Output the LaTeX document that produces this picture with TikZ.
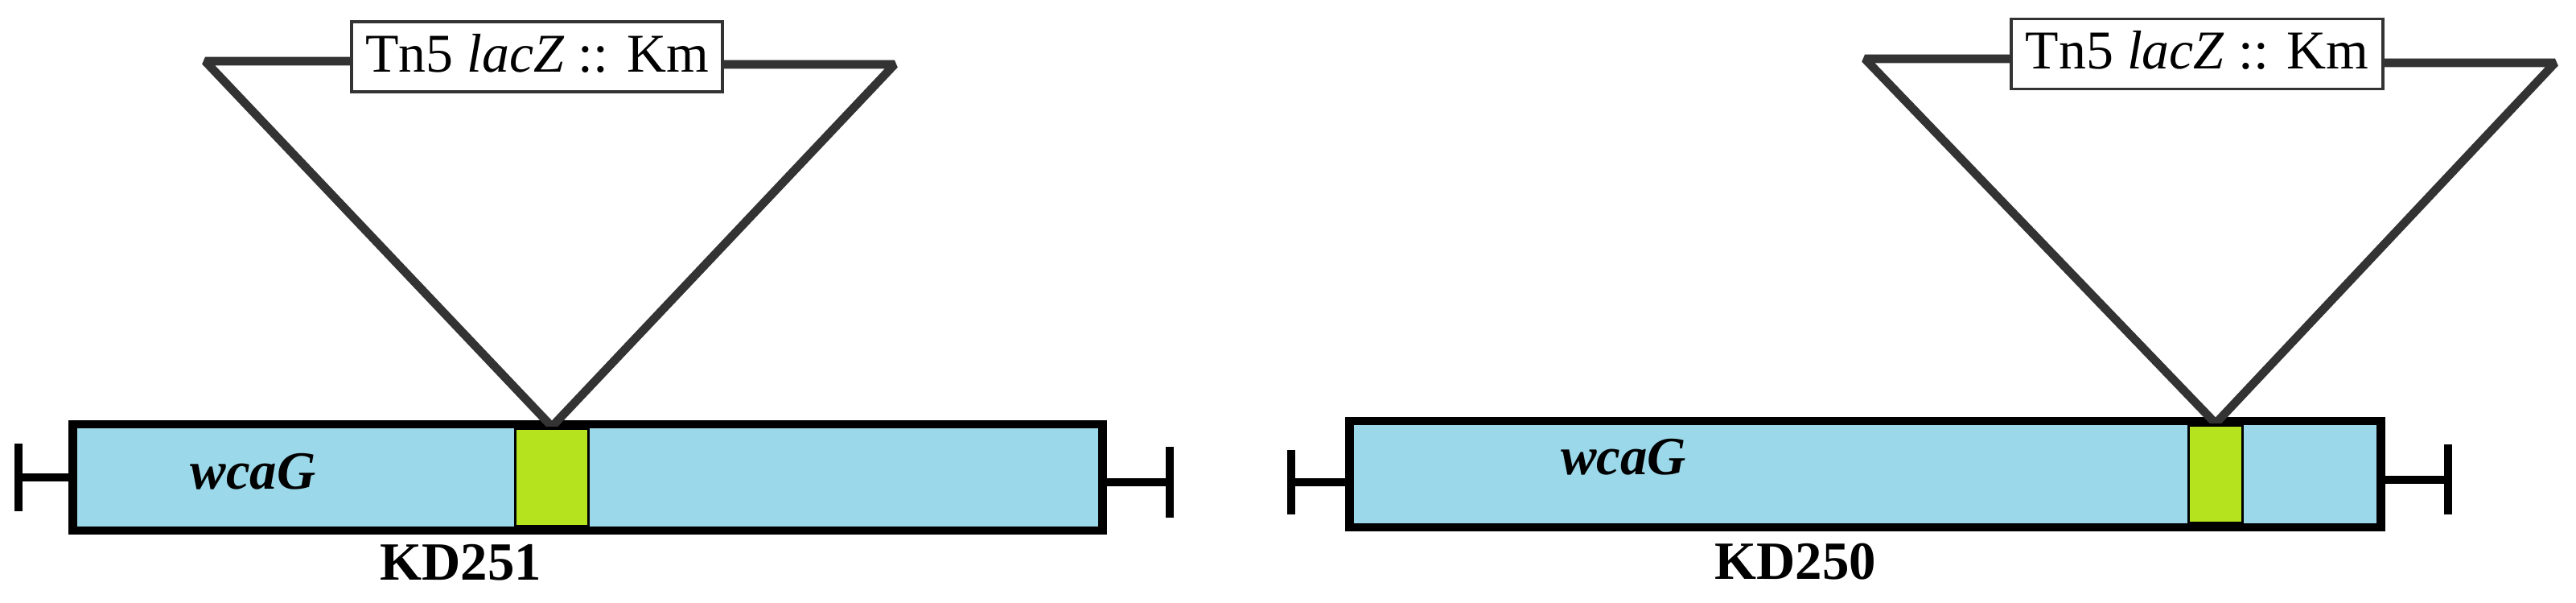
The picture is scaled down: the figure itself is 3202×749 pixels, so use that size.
\documentclass[tikz,border=0pt]{standalone}
\usepackage{fontspec}
\setmainfont{Liberation Serif}
\usepackage{xcolor}
\usepackage{tikz}
\usetikzlibrary{positioning}

\definecolor{genefill}{RGB}{155,216,233}
\definecolor{sitefill}{RGB}{181,228,30}
\definecolor{tngray}{RGB}{51,51,51}

\begin{document}
\begin{tikzpicture}[
		x=0.01cm, y=-0.01cm,
		% Defining consistent styles
		genebox/.style={
				rectangle,
				draw=black,
				line width=3.1pt,
				fill=genefill,
				minimum width=12.8cm,
				minimum height=1.32cm,
				inner sep=0pt
			},
		sitebox/.style={
				rectangle,
				draw=black,
				line width=0.9pt,
				fill=sitefill,
				minimum height=1.22cm,
				inner sep=0pt
			},
		tnbox/.style={
				rectangle,
				draw=tngray,
				line width=1.1pt,
				fill=white,
				minimum width=4.61cm,
				minimum height=0.87cm,
				inner sep=0pt,
				text depth=0.1cm,
				font=\fontsize{19.3}{22}\selectfont
			},
		genelabel/.style={
				inner sep=0pt,
				font=\fontsize{19}{22}\selectfont\bfseries\itshape
			},
		strainlabel/.style={
				inner sep=0pt,
				font=\fontsize{19}{22}\selectfont\bfseries
			},
		% Defining line styles
		insertline/.style={
				draw=tngray,
				line width=3pt,
				line join=bevel
			},
		endbar/.style={
				draw=black,
				line width=2.9pt
			}
		]

		\useasboundingbox (0,0) rectangle (3202,749);

		% Insertion points and transposon corners
		\coordinate (insL) at (686,530);
		\coordinate (insR) at (2754,526);
		\coordinate (tlL) at (255,76);
		\coordinate (trL) at (1112,80);
		\coordinate (tlR) at (2318,73);
		\coordinate (trR) at (3176,78);

		% End markers
		\coordinate (endL1) at (23,593);
		\coordinate (endL2) at (1454,599);
		\coordinate (endR1) at (1605,599);
		\coordinate (endR2) at (3043,596);

		% Gene boxes
		\node[genebox] (geneL) at (730.5,593) {};
		\node[genebox, minimum width=12.81cm] (geneR) at (2318.5,589) {};

		% Transposon labels
		\node[tnbox] (tnL) at (667.5,70.5) {Tn5 \textit{lacZ} :: Km};
		\node[tnbox] (tnR) at (2731,67) {Tn5 \textit{lacZ} :: Km};

		% Drawing insertion triangles
		\draw[insertline] (tlL -| tnL.west) -- (tlL) -- (insL) -- (trL) -- (trL -| tnL.east);
		\draw[insertline] (tlR -| tnR.west) -- (tlR) -- (insR) -- (trR) -- (trR -| tnR.east);

		% Insertion sites
		\node[sitebox, minimum width=0.91cm] (siteL) at (insL |- geneL) {};
		\node[sitebox, minimum width=0.67cm] (siteR) at (insR |- geneR) {};

		% Gene and strain names
		\node[genelabel, right=1.51cm of geneL.west, yshift=0.07cm] (wcaL) {wcaG};
		\node[genelabel, right=2.67cm of geneR.west, yshift=0.21cm] (wcaR) {wcaG};
		\node[strainlabel, below=0.11cm of geneL.south, xshift=-1.575cm] (kdL) {KD251};
		\node[strainlabel, below=0.14cm of geneR.south, xshift=-0.865cm] (kdR) {KD250};

		% Drawing end markers
		\draw[endbar] (endL1 -| geneL.west) -- (endL1) ++(0,-42) -- ++(0,84);
		\draw[endbar] (endL2 -| geneL.east) -- (endL2) ++(0,-44) -- ++(0,88);
		\draw[endbar] (endR1 -| geneR.west) -- (endR1) ++(0,-40) -- ++(0,80);
		\draw[endbar] (endR2 -| geneR.east) -- (endR2) ++(0,-44) -- ++(0,87);

	\end{tikzpicture}
\end{document}
